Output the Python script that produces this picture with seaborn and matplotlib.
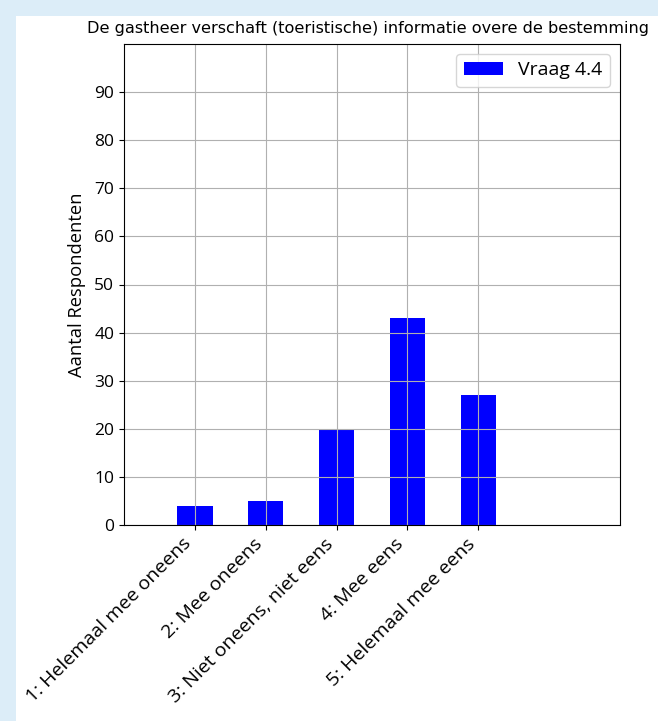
import matplotlib
matplotlib.use("Agg")
import matplotlib.pyplot as plt
import matplotlib.patches as mpatches
import pandas as pd
import seaborn as sns

categories = ["1: Helemaal mee oneens", "2: Mee oneens",
              "3: Niet oneens, niet eens", "4: Mee eens",
              "5: Helemaal mee eens"]
counts = [4, 5, 20, 43, 27]
series_name = "Vraag 4.4"
title = "De gastheer verschaft (toeristische) informatie overe de bestemming"

df = pd.DataFrame({"antwoord": categories, "aantal": counts})

fig = plt.figure(figsize=(6.58, 7.21), dpi=100)
fig.patch.set_facecolor("#dcedf8")
# white notebook output area
fig.patches.append(mpatches.Rectangle((16 / 658, 0), 1, 1 - 16 / 721,
                                      transform=fig.transFigure,
                                      facecolor="white", edgecolor="none",
                                      zorder=-5))
ax = fig.add_axes([124 / 658, 1 - 525 / 721, 496 / 658, 481 / 721])
ax.set_zorder(2)

sns.barplot(x="antwoord", y="aantal", data=df, color="blue",
            saturation=1, width=0.5, ax=ax)
ax.set_axisbelow("line")
ax.grid(True, color="#b0b0b0", linewidth=0.8)

ax.set_xlim(-1, 6)
ax.set_ylim(0, 100)
ax.set_yticks(range(0, 100, 10))
ax.set_xticks(range(len(categories)))
ax.set_xticklabels(categories, rotation=45, ha="right",
                   family="Open Sans", fontsize=14)
for lbl in ax.get_yticklabels():
    lbl.set_family("Open Sans")
    lbl.set_fontsize(12.5)
ax.set_xlabel("")
ax.set_ylabel("Aantal Respondenten", family="Open Sans", fontsize=13.2,
              labelpad=6)

ax.legend([ax.patches[0]], [series_name], loc="upper right",
          prop={"family": "Open Sans", "size": 14})

fig.text(368 / 658, 1 - 28 / 721, title, ha="center", va="center",
         fontsize=11.6)

plt.savefig("out.png", dpi=100, facecolor=fig.get_facecolor())
plt.close()
